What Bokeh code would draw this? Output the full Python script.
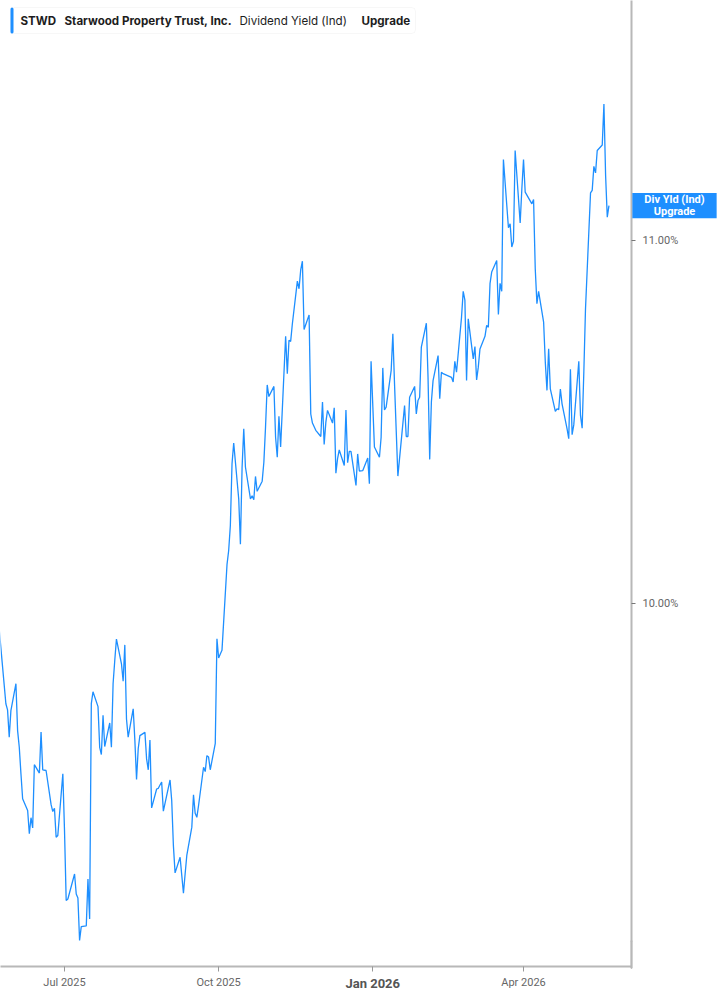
import pandas as pd
from pandas.tseries.offsets import CustomBusinessDay
from bokeh.plotting import figure
from bokeh.models import (Range1d, FixedTicker, PrintfTickFormatter, DatetimeTickFormatter,
                          Label, BoxAnnotation, ColumnDataSource)
from bokeh.embed import file_html
from bokeh.resources import INLINE

# ---------------- data ----------------
START_DATE = "2025-05-23"
HOLIDAYS = ["2025-05-26", "2025-06-19", "2025-07-04", "2025-09-01", "2025-11-27",
            "2025-12-25", "2026-01-01", "2026-01-19", "2026-02-16", "2026-04-03"]

YIELD_PCT = [
    9.930, 9.724, 9.707, 9.632, 9.705, 9.779, 9.650, 9.604,
    9.531, 9.462, 9.430, 9.366, 9.410, 9.382, 9.556, 9.533, 9.646, 9.542,
    9.540, 9.446, 9.427, 9.436, 9.356, 9.361, 9.531, 9.375, 9.182, 9.186,
    9.255, 9.200, 9.189, 9.072, 9.110, 9.112, 9.241, 9.131, 9.724, 9.757,
    9.716, 9.604, 9.584, 9.692, 9.606, 9.671, 9.604, 9.779, 9.843, 9.902,
    9.834, 9.786, 9.886,
    9.682, 9.632, 9.710, 9.623, 9.515, 9.600, 9.636, 9.645, 9.572, 9.542,
    9.624, 9.437, 9.489, 9.491, 9.500, 9.508, 9.428, 9.514, 9.457, 9.333,
    9.258, 9.301, 9.251, 9.202, 9.255, 9.306, 9.384, 9.473, 9.422, 9.411,
    9.443, 9.549, 9.537, 9.581, 9.577, 9.542, 9.615, 9.903, 9.850, 9.861,
    9.871, 10.107, 10.146, 10.215, 10.385, 10.442, 10.288, 10.163, 10.374,
    10.481, 10.376, 10.288, 10.297, 10.286, 10.350, 10.309, 10.337, 10.389, 10.486,
    10.602, 10.570, 10.598, 10.458, 10.403, 10.516, 10.431, 10.736, 10.633, 10.725,
    10.722, 10.770, 10.888, 10.867, 10.919, 10.943, 10.755, 10.795, 10.522, 10.497,
    10.477, 10.460, 10.555, 10.438, 10.499, 10.532, 10.497, 10.539, 10.359, 10.399,
    10.423, 10.380, 10.533, 10.388, 10.419, 10.419, 10.325, 10.412, 10.365,
    10.366, 10.401, 10.330, 10.667, 10.431, 10.403, 10.458, 10.649, 10.533, 10.541,
    10.642, 10.743, 10.605, 10.477, 10.351, 10.545, 10.460, 10.460, 10.568, 10.598,
    10.522, 10.559, 10.568, 10.706, 10.772, 10.623, 10.397, 10.555, 10.614, 10.683,
    10.564, 10.637, 10.633, 10.631, 10.623, 10.610, 10.667, 10.637, 10.789, 10.860,
    10.836, 10.614, 10.784, 10.674, 10.708, 10.616, 10.651, 10.701, 10.736, 10.766,
    10.761, 10.881, 10.913, 10.945,
    10.796, 10.882, 10.860, 11.223, 11.035, 11.046, 10.982, 10.998, 11.248, 11.048,
    11.142, 11.223, 11.133, 11.101, 11.113, 10.922, 10.826, 10.860, 10.775, 10.665,
    10.587, 10.702, 10.591, 10.529, 10.536, 10.534, 10.591, 10.550, 10.481, 10.454,
    10.645, 10.465, 10.492, 10.667, 10.518, 10.483, 10.637, 10.812, 11.131, 11.138,
    11.204, 11.186, 11.248, 11.263, 11.376, 11.179, 11.064, 11.096,
]

X_TICKS = ["2025-07-01", "2025-10-01", "2026-01-01", "2026-04-01"]
BOLD_X_TICK = "2026-01-01"
BOLD_X_LABEL = "Jan 2026"
Y_TICKS = [10.0, 11.0]
X_START, X_END = "2025-05-23 19:00", "2026-06-04 11:00"
Y_START, Y_END = 9.069, 11.661

TICKER = "STWD"
COMPANY = "Starwood Property Trust, Inc."
METRIC = "Dividend Yield (Ind)"
UPGRADE = "Upgrade"
TAG_TEXT = "Div Yld (Ind)\nUpgrade"

BLUE = "#1e8fff"
AXIS_GREY = "#b8b8b8"

dates = pd.date_range(start=START_DATE, periods=len(YIELD_PCT),
                      freq=CustomBusinessDay(holidays=HOLIDAYS))
src = ColumnDataSource(dict(date=dates, value=YIELD_PCT))

FW, FH = 631, 941
p = figure(frame_width=FW, frame_height=FH, x_axis_type="datetime", y_axis_location="right",
           x_range=Range1d(pd.Timestamp(X_START), pd.Timestamp(X_END)),
           y_range=Range1d(Y_START, Y_END),
           toolbar_location=None, output_backend="svg",
           min_border_left=0, min_border_top=0, min_border_right=86, min_border_bottom=0)
p.outline_line_color = None
p.xgrid.visible = False
p.ygrid.visible = False
p.background_fill_color = "white"

p.line(x="date", y="value", source=src, line_color=BLUE, line_width=1.3)


def ms(d):
    return pd.Timestamp(d).value / 1e6


xa = p.xaxis[0]
xa.ticker = FixedTicker(ticks=[ms(d) for d in X_TICKS], minor_ticks=[])
fmt = "%b %Y"
xa.formatter = DatetimeTickFormatter(months=fmt, days=fmt, years=fmt, hours=fmt,
                                     minutes=fmt, seconds=fmt, milliseconds=fmt,
                                     microseconds=fmt, minsec=fmt, hourmin=fmt)
xa.major_label_overrides = {ms(BOLD_X_TICK): ""}
xa.axis_line_color = AXIS_GREY
xa.axis_line_width = 2
xa.major_tick_line_color = "#999999"
xa.major_tick_out = 5
xa.major_tick_in = 0
xa.minor_tick_out = 0
xa.minor_tick_in = 0
xa.major_label_text_color = "#666666"
xa.major_label_text_font = "Roboto"
xa.major_label_text_font_size = "11px"
xa.major_label_standoff = 4

ya = p.yaxis[0]
ya.ticker = FixedTicker(ticks=Y_TICKS, minor_ticks=[])
ya.formatter = PrintfTickFormatter(format="%.2f%%")
ya.axis_line_color = AXIS_GREY
ya.axis_line_width = 2
ya.major_tick_line_color = "#777777"
ya.major_tick_out = 4
ya.major_tick_in = 0
ya.minor_tick_out = 0
ya.minor_tick_in = 0
ya.major_label_text_color = "#666666"
ya.major_label_text_font = "Roboto"
ya.major_label_text_font_size = "11px"
ya.major_label_standoff = 7


def pad(l, r, t, b):
    try:
        Label(padding=dict(left=l, right=r, top=t, bottom=b))
        return dict(left=l, right=r, top=t, bottom=b)
    except Exception:
        return (t, r, b, l)


# header box (inside the frame)
p.add_layout(BoxAnnotation(left=10, right=415, top=FH - 7, bottom=FH - 33,
                           left_units="screen", right_units="screen",
                           top_units="screen", bottom_units="screen",
                           fill_color="white", fill_alpha=1, line_color="#e4e4e4",
                           line_width=1, border_radius=4, level="annotation"))
p.add_layout(BoxAnnotation(left=10, right=13, top=FH - 7, bottom=FH - 33,
                           left_units="screen", right_units="screen",
                           top_units="screen", bottom_units="screen",
                           fill_color=BLUE, fill_alpha=1, line_color=None,
                           border_radius=2, level="annotation"))
for xx, txt, style in [(20, TICKER, "bold"), (64, COMPANY, "bold"),
                       (239, METRIC, "normal"), (361, UPGRADE, "bold")]:
    p.add_layout(Label(x=xx, y=FH - 20, x_units="screen", y_units="screen", text=txt,
                       text_font="Inter", text_font_style=style, text_font_size="11.6px",
                       text_color="#1d1d1d", text_align="left", text_baseline="middle"))

# value tag on the right axis (lives in a side panel so it is not clipped by the frame)
tag = Label(x=ms(X_END), y=YIELD_PCT[-1], x_units="data", y_units="data",
            x_offset=43, text=TAG_TEXT, text_font="Roboto", text_font_style="bold",
            text_font_size="11px", text_color="white", text_align="center",
            text_baseline="middle", text_line_height=0.95,
            background_fill_color=BLUE, background_fill_alpha=1,
            padding=pad(12, 12, 0, 0))

# bold "Jan 2026" tick label
jan = Label(x=ms(BOLD_X_TICK), y=23, x_units="data", y_units="screen",
            text=BOLD_X_LABEL, text_font="Roboto", text_font_style="bold",
            text_font_size="13px", text_color="#555555",
            text_align="center", text_baseline="middle")

# continuation of the right axis line down to the bottom axis
corner = Label(x=ms(X_END), y=-13, x_units="data", y_units="screen", text=" ",
               text_font_size="1px", text_align="center", text_baseline="middle",
               border_line_color=AXIS_GREY, border_line_width=2,
               padding=pad(0, 0, 13, 13))

p.below = [tag, xa, jan]
p.right = [ya, corner]

open("out.html", "w").write(file_html(p, INLINE))
